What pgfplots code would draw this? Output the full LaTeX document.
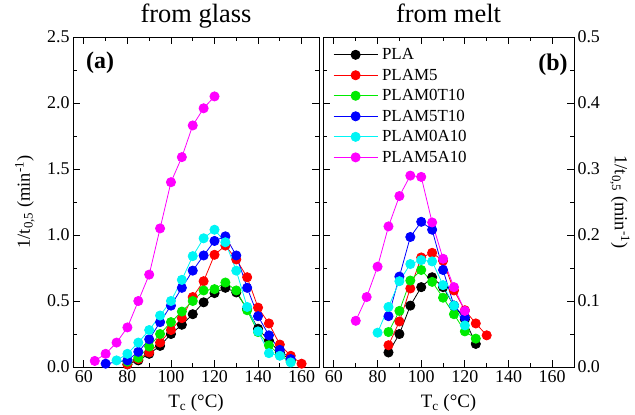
\documentclass[border=0pt]{standalone}
\usepackage{fontspec}
\setmainfont{Liberation Serif}
\usepackage{pgfplots}
\pgfplotsset{compat=1.18}
\definecolor{cgreen}{RGB}{0,235,0}
\definecolor{ccyan}{RGB}{0,245,245}
\definecolor{cmag}{RGB}{255,0,255}
\definecolor{cblue}{RGB}{0,0,255}
\definecolor{cred}{RGB}{255,0,0}
\pgfplotsset{
  common/.style={
    scale only axis, height=330bp,
    xmin=55,
    xtick={60,80,...,160}, minor x tick num=1,
    minor y tick num=1,
    tick align=inside,
    major tick length=7bp, minor tick length=4bp,
    every tick/.style={line width=0.9bp, black},
    axis line style={line width=1bp},
    ticklabel style={font=\fontsize{18}{20}\selectfont},
    /pgf/number format/assume math mode=true,
    yticklabel style={/pgf/number format/.cd, fixed, fixed zerofill, precision=1},
    xticklabel style={/pgf/number format/.cd, fixed, precision=0},
    scaled y ticks=false,
    clip=false,
    every axis plot/.append style={line width=0.8bp, mark=*, mark size=4.6bp, mark options={solid}},
    xlabel={T\textsubscript{c} (°C)},
    every axis x label/.style={at={(axis description cs:0.5,-0.124)}, anchor=base, font=\fontsize{19}{20}\selectfont},
    every axis title/.style={at={(axis description cs:0.5,1.045)}, anchor=base, font=\fontsize{26.5}{28}\selectfont},
  }
}
\begin{document}
\begin{tikzpicture}[x=1bp,y=1bp]
\path[use as bounding box] (0,0) rectangle (635,414);
\begin{axis}[common,
  at={(73bp,47bp)}, anchor=south west,
  width=246bp, xmax=168,
  ymin=0, ymax=2.5, ytick={0,0.5,...,2.5},
  title={from glass},
  ylabel={1/t\textsubscript{0,5} (min\textsuperscript{-1})},
  every axis y label/.style={at={(axis description cs:-0.196,0.5)}, rotate=90, anchor=center, font=\fontsize{18.5}{20}\selectfont},
]
\addplot[color=black, mark options={fill=black}] coordinates {(80,0.02)(85,0.05)(90,0.10)(95,0.16)(100,0.25)(105,0.32)(110,0.40)(115,0.49)(120,0.56)(125,0.60)(130,0.565)(135,0.44)(140,0.29)(145,0.20)(150,0.11)(155,0.05)};
\addplot[color=cred, mark options={fill=cred}] coordinates {(80,0.02)(85,0.06)(90,0.11)(95,0.185)(100,0.28)(105,0.37)(110,0.53)(115,0.65)(120,0.85)(125,0.92)(130,0.815)(135,0.68)(140,0.45)(145,0.33)(150,0.17)(155,0.085)(160,0.025)};
\addplot[color=cgreen, mark options={fill=cgreen}] coordinates {(80,0.04)(85,0.07)(90,0.155)(95,0.25)(100,0.34)(105,0.42)(110,0.50)(115,0.58)(120,0.59)(125,0.64)(130,0.58)(135,0.43)(140,0.265)(145,0.165)(150,0.09)(155,0.04)};
\addplot[color=cblue, mark options={fill=cblue}] coordinates {(70,0.025)(80,0.05)(85,0.115)(90,0.21)(95,0.34)(100,0.465)(105,0.60)(110,0.73)(115,0.845)(120,0.955)(125,0.99)(130,0.845)(135,0.60)(140,0.385)(145,0.24)(150,0.13)(155,0.06)};
\addplot[color=ccyan, mark options={fill=ccyan}] coordinates {(75,0.05)(80,0.10)(85,0.185)(90,0.28)(95,0.39)(100,0.50)(105,0.66)(110,0.84)(115,0.975)(120,1.04)(125,0.945)(130,0.73)(135,0.455)(140,0.27)(145,0.105)(150,0.085)(155,0.035)};
\addplot[color=cmag, mark options={fill=cmag}] coordinates {(65,0.046)(70,0.10)(75,0.185)(80,0.30)(85,0.50)(90,0.70)(95,1.05)(100,1.40)(105,1.59)(110,1.83)(115,1.96)(120,2.05)};
\node[font=\bfseries\fontsize{24}{26}\selectfont] at (axis description cs:0.11,0.921) {(a)};
\end{axis}
\begin{axis}[common,
  at={(323bp,47bp)}, anchor=south west,
  width=251bp, xmax=170,
  ymin=0, ymax=0.5, ytick={0,0.1,...,0.5},
  yticklabel pos=right,
  title={from melt},
  ylabel={1/t\textsubscript{0,5} (min\textsuperscript{-1})},
  every axis y label/.style={at={(axis description cs:1.183,0.5)}, rotate=-90, anchor=center, font=\fontsize{18.5}{20}\selectfont},
  legend cell align=left,
  legend style={draw=none, fill=none, at={(axis description cs:0.028,0.978)}, anchor=north west, font=\fontsize{17}{19}\selectfont, row sep=3.8bp, /tikz/every odd column/.append style={column sep=2bp}},
  legend image code/.code={\draw[mark repeat=2,mark phase=2] plot coordinates {(0bp,0bp)(22bp,0bp)(44bp,0bp)};},
]
\addplot[color=black, mark options={fill=black}] coordinates {(85,0.022)(90,0.05)(95,0.093)(100,0.121)(105,0.136)(110,0.121)(115,0.093)(120,0.072)(125,0.035)};
\addlegendentry{PLA}
\addplot[color=cred, mark options={fill=cred}] coordinates {(85,0.033)(90,0.069)(95,0.119)(100,0.166)(105,0.173)(110,0.161)(115,0.116)(120,0.086)(125,0.066)(130,0.048)};
\addlegendentry{PLAM5}
\addplot[color=cgreen, mark options={fill=cgreen}] coordinates {(85,0.053)(90,0.085)(95,0.131)(100,0.147)(105,0.129)(110,0.105)(115,0.08)(120,0.054)(125,0.043)};
\addlegendentry{PLAM0T10}
\addplot[color=cblue, mark options={fill=cblue}] coordinates {(85,0.077)(90,0.137)(95,0.197)(100,0.22)(105,0.208)(110,0.147)(115,0.093)(120,0.075)};
\addlegendentry{PLAM5T10}
\addplot[color=ccyan, mark options={fill=ccyan}] coordinates {(80,0.052)(85,0.091)(90,0.130)(95,0.156)(100,0.162)(105,0.160)(110,0.124)(115,0.093)(120,0.063)};
\addlegendentry{PLAM0A10}
\addplot[color=cmag, mark options={fill=cmag}] coordinates {(70,0.070)(75,0.106)(80,0.152)(85,0.213)(90,0.259)(95,0.290)(100,0.288)(105,0.219)(110,0.164)(115,0.121)(120,0.085)};
\addlegendentry{PLAM5A10}
\node[font=\bfseries\fontsize{24}{26}\selectfont] at (axis description cs:0.916,0.915) {(b)};
\end{axis}
\end{tikzpicture}
\end{document}
